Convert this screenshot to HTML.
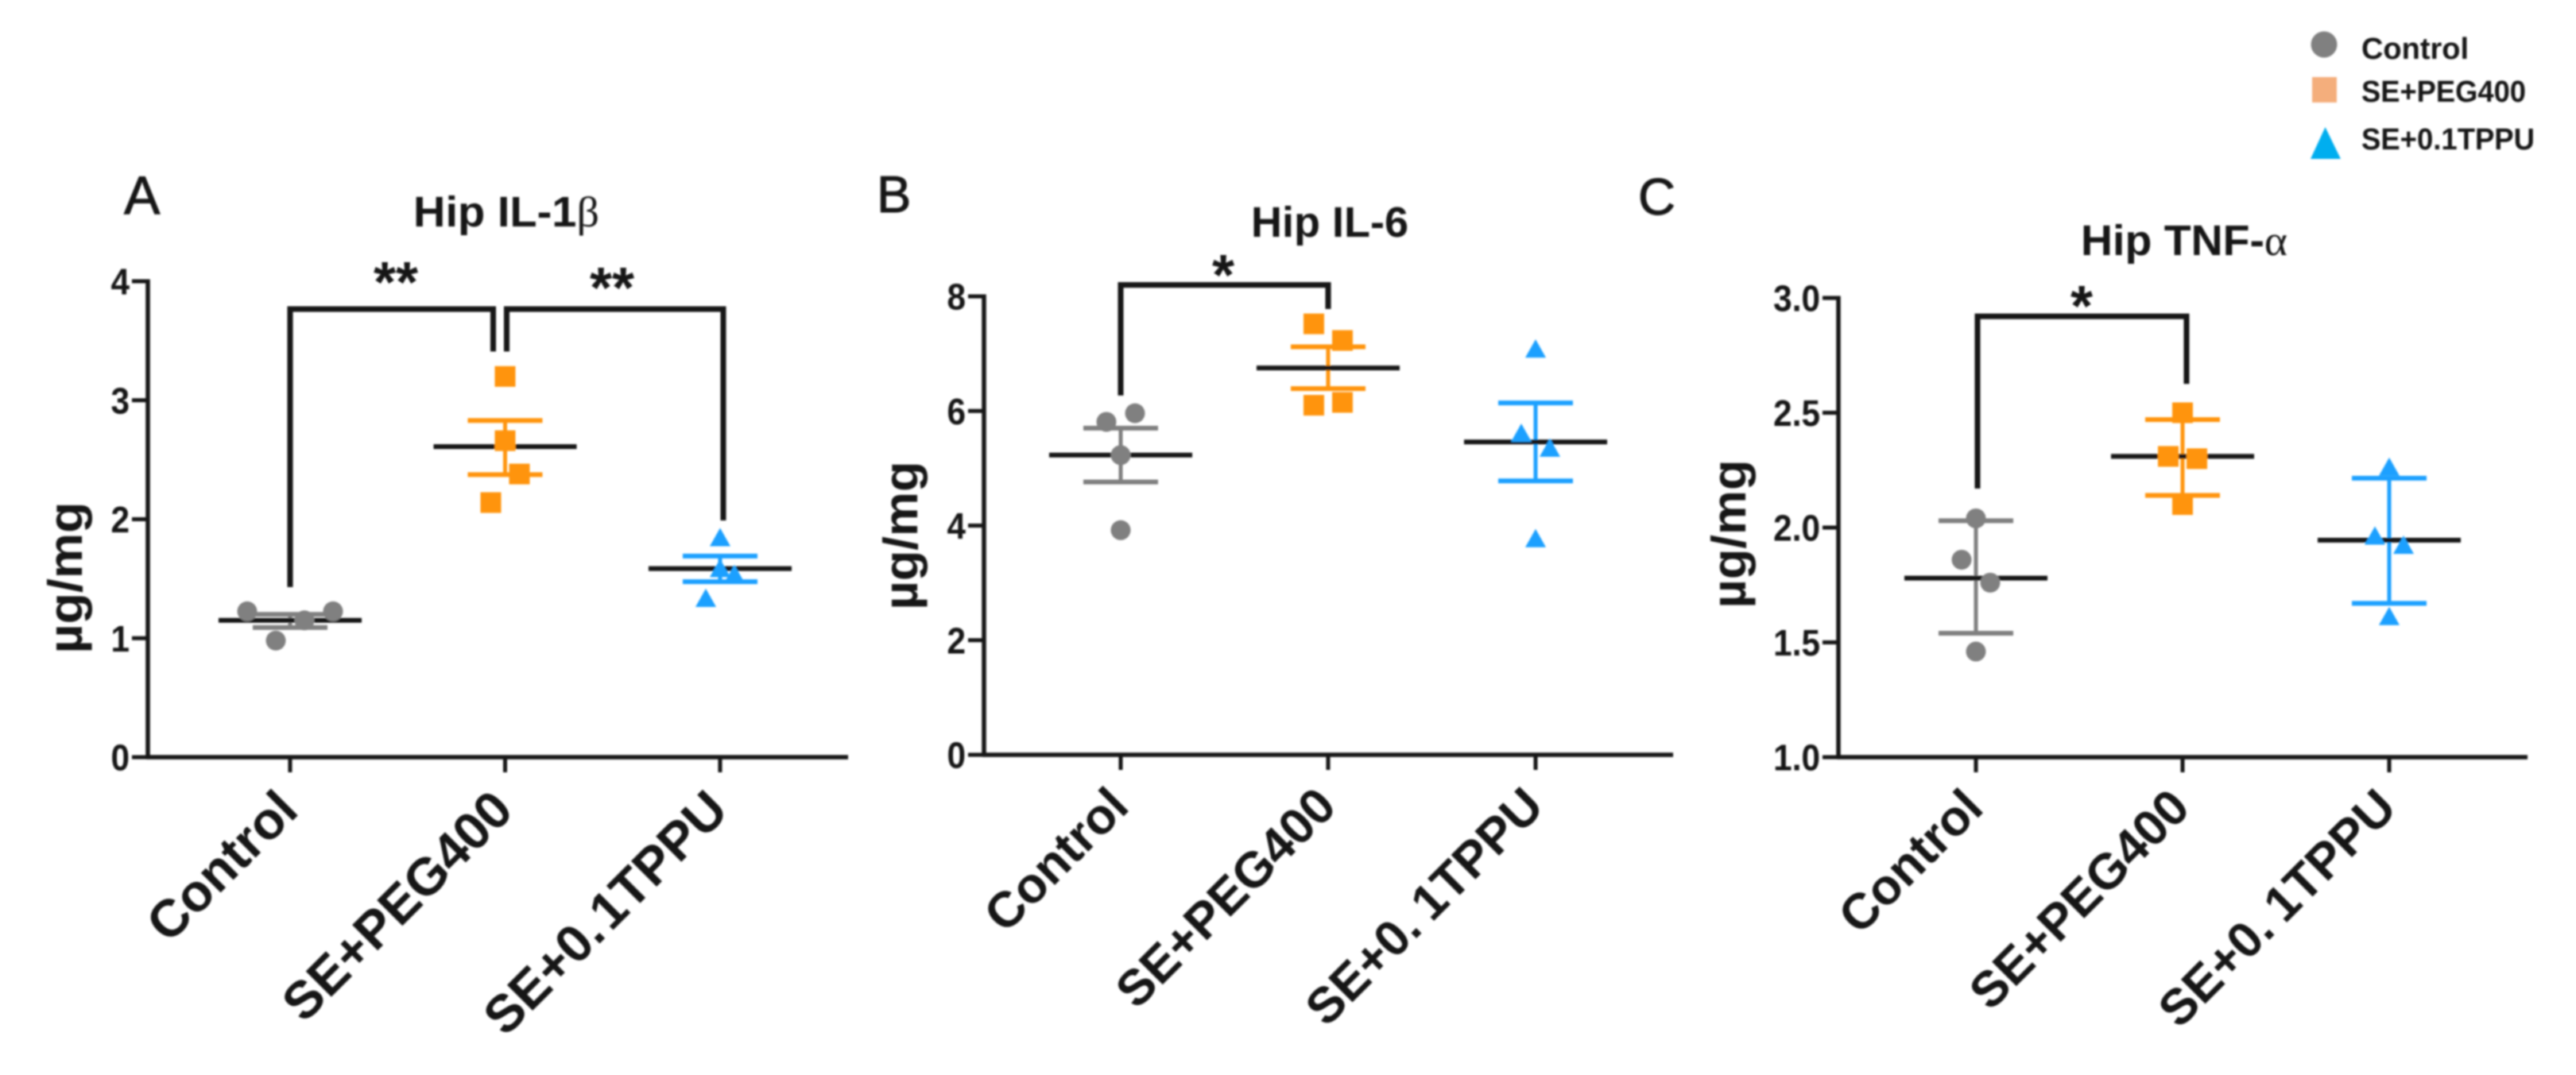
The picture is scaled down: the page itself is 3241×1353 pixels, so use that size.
<!DOCTYPE html>
<html lang="en">
<head>
<meta charset="utf-8">
<title>Hippocampal cytokine levels</title>
<style>
html,body{margin:0;padding:0;background:#fff;width:3241px;height:1353px;overflow:hidden}
svg{display:block}
text{font-family:"Liberation Sans",sans-serif;fill:#141414}
.b{font-weight:700}
.g{font-family:"Liberation Serif",serif;font-weight:400}
</style>
</head>
<body>
<svg id="figure" xmlns="http://www.w3.org/2000/svg" width="3241" height="1353" viewBox="0 0 3241 1353">
<defs><filter id="soft" x="0" y="0" width="100%" height="100%" filterUnits="userSpaceOnUse" primitiveUnits="userSpaceOnUse"><feGaussianBlur stdDeviation="1.1"/></filter></defs>
<rect x="0" y="0" width="3241" height="1353" fill="#fff"/>
<g id="root" filter="url(#soft)">
  <text x="156" y="269" font-size="68" stroke="#141414" stroke-width="1">A</text>
  <text x="1103" y="267" font-size="65" stroke="#141414" stroke-width="1">B</text>
  <text x="2061" y="270" font-size="65" stroke="#141414" stroke-width="1">C</text>

  <text class="b" x="637" y="285" font-size="54" text-anchor="middle" textLength="234" lengthAdjust="spacingAndGlyphs">Hip IL-1<tspan class="g">β</tspan></text>
  <text class="b" x="1673" y="298" font-size="54" text-anchor="middle" textLength="198" lengthAdjust="spacingAndGlyphs">Hip IL-6</text>
  <text class="b" x="2748" y="321" font-size="54" text-anchor="middle" textLength="260" lengthAdjust="spacingAndGlyphs">Hip TNF-<tspan class="g">α</tspan></text>

  <text class="b" transform="translate(103,727) rotate(-90)" font-size="60" text-anchor="middle" textLength="191" lengthAdjust="spacingAndGlyphs">µg/mg</text>
  <text class="b" transform="translate(1154,674) rotate(-90)" font-size="60" text-anchor="middle" textLength="187" lengthAdjust="spacingAndGlyphs">µg/mg</text>
  <text class="b" transform="translate(2196,672) rotate(-90)" font-size="60" text-anchor="middle" textLength="187" lengthAdjust="spacingAndGlyphs">µg/mg</text>

  <g>
    <circle cx="2924" cy="56" r="16.5" fill="#808080"/>
    <rect x="2909" y="97" width="31" height="32" fill="#F4AE7C"/>
    <polygon points="2925.5,160 2945,200 2907,200" fill="#00AEEF"/>
    <text class="b" x="2971" y="74" font-size="38" textLength="135" lengthAdjust="spacingAndGlyphs">Control</text>
    <text class="b" x="2971" y="128" font-size="38" textLength="207" lengthAdjust="spacingAndGlyphs">SE+PEG400</text>
    <text class="b" x="2971" y="188" font-size="38" textLength="218" lengthAdjust="spacingAndGlyphs">SE+0.1TPPU</text>
  </g>
</g>
</svg>
<script>
/* ---------- data ---------- */
const categories = ["Control", "SE+PEG400", "SE+0.1TPPU"];

const il1bTicks = ["0", "1", "2", "3", "4"];
const il1bTickValues = [0, 1, 2, 3, 4];
const il1bControl = [1.226, 0.98, 1.15, 1.226];
const il1bPeg = [3.2, 2.66, 2.38, 2.14];
const il1bTppu = [1.84, 1.58, 1.53, 1.33];
const il1bMeans = [1.15, 2.61, 1.585];
const il1bErrUpper = [1.2, 2.83, 1.69];
const il1bErrLower = [1.09, 2.375, 1.475];
const il1bSlots = [[-3, -1, 1, 3], [0, 0, 1, -1], [0, 0, 1, -1]];

const il6Ticks = ["0", "2", "4", "6", "8"];
const il6TickValues = [0, 2, 4, 6, 8];
const il6Control = [5.96, 5.81, 5.23, 3.92];
const il6Peg = [7.52, 7.23, 6.15, 6.10];
const il6Tppu = [7.07, 5.6, 5.34, 3.76];
const il6Means = [5.23, 6.75, 5.46];
const il6ErrUpper = [5.70, 7.12, 6.14];
const il6ErrLower = [4.76, 6.39, 4.78];
const il6Slots = [[1, -1, 0, 0], [-1, 1, 1, -1], [0, -1, 1, 0]];

const tnfTicks = ["1.0", "1.5", "2.0", "2.5", "3.0"];
const tnfTickValues = [1, 1.5, 2, 2.5, 3];
const tnfControl = [2.04, 1.86, 1.76, 1.46];
const tnfPeg = [2.5, 2.31, 2.30, 2.10];
const tnfTppu = [2.26, 1.96, 1.92, 1.61];
const tnfMeans = [1.78, 2.31, 1.945];
const tnfErrUpper = [2.03, 2.47, 2.215];
const tnfErrLower = [1.54, 2.14, 1.67];
const tnfSlots = [[0, -1, 1, 0], [0, -1, 1, 0], [0, -1, 1, 0]];

/* significance brackets: from category, to category, top value, left-foot value, right-foot value */
const il1bBrackets = [[0, 1, 3.766, 1.43, 3.41, "**"], [1, 2, 3.766, 3.41, 1.99, "**"]];
const il6Brackets = [[0, 1, 8.2, 6.27, 7.78, "*"]];
const tnfBrackets = [[0, 1, 2.92, 2.17, 2.626, "*"]];

/* ---------- layout (pixels) ---------- */
const seriesColors = ["#808080", "#FF9408", "#1AA0FF"];
const panels = [
  {key: "il1b", axisX: 186, axisEnd: 1067, yZero: 953, yTop: 354, lo: 0, hi: 4, cat0: 365, step: 270.5,
   ticks: il1bTicks, tickValues: il1bTickValues, series: [il1bControl, il1bPeg, il1bTppu],
   means: il1bMeans, up: il1bErrUpper, low: il1bErrLower, slots: il1bSlots, brackets: il1bBrackets,
   bracketDx: [[0, -15], [2, 4]], starAt: [[498, 380], [770, 387]],
   labelSize: 66, labelDx: 13, labelDy: 70, labelGap: 6},
  {key: "il6", axisX: 1238, axisEnd: 2105, yZero: 950, yTop: 373, lo: 0, hi: 8, cat0: 1410, step: 261,
   ticks: il6Ticks, tickValues: il6TickValues, series: [il6Control, il6Peg, il6Tppu],
   means: il6Means, up: il6ErrUpper, low: il6ErrLower, slots: il6Slots, brackets: il6Brackets,
   bracketDx: [[0, 0]], starAt: [[1539, 371]],
   labelSize: 63, labelDx: 13, labelDy: 68, labelGap: 14},
  {key: "tnf", axisX: 2313, axisEnd: 3180, yZero: 953, yTop: 375, lo: 1, hi: 3, cat0: 2486, step: 260,
   ticks: tnfTicks, tickValues: tnfTickValues, series: [tnfControl, tnfPeg, tnfTppu],
   means: tnfMeans, up: tnfErrUpper, low: tnfErrLower, slots: tnfSlots, brackets: tnfBrackets,
   bracketDx: [[2, 5]], starAt: [[2619, 410]],
   labelSize: 63, labelDx: 12, labelDy: 67, labelGap: 14}
];

const NS = "http://www.w3.org/2000/svg";
const root = document.getElementById("root");
function mk(tag, attrs, parent) {
  const el = document.createElementNS(NS, tag);
  for (const k in attrs) el.setAttribute(k, attrs[k]);
  parent.appendChild(el);
  return el;
}
function seg(parent, x1, y1, x2, y2, color, w, name) {
  const el = mk("line", {x1: x1, y1: y1, x2: x2, y2: y2, stroke: color, "stroke-width": w}, parent);
  
  
  return el;
}

panels.forEach(function (p) {
  const yScale = function (v) { return p.yZero - (v - p.lo) / (p.hi - p.lo) * (p.yZero - p.yTop); };
  const xScale = function (i) { return p.cat0 + i * p.step; };
  const ink = "#141414";

  const g = mk("g", {}, root);
  
  

  /* axes */
  seg(g, p.axisX, yScale(p.hi) - 2.5, p.axisX, p.yZero + 2.5, ink, 5.5, p.key + '-y-axis');
  seg(g, p.axisX - 2, p.yZero, p.axisEnd, p.yZero, ink, 5.5, p.key + '-x-axis');

  p.tickValues.forEach(function (v, i) {
    seg(g, p.axisX - 20, yScale(v), p.axisX, yScale(v), ink, 5, p.key + '-y-tick');
    const t = mk("text", {transform: "translate(" + (p.axisX - 23) + "," + (yScale(v) + 16.5) + ") scale(.92,1)", "font-size": 46, "text-anchor": "end", "class": "b"}, g);
    
    
    t.textContent = p.ticks[i];
  });

  categories.forEach(function (c, i) {
    const x = xScale(i);
    seg(g, x, p.yZero, x, p.yZero + 19, ink, 5, p.key + '-x-tick');
    const t = mk("text", {transform: "translate(" + (x + p.labelDx) + "," + (p.yZero + p.labelDy) + ") rotate(-45)", "font-size": p.labelSize, "text-anchor": "end", "class": "b"}, g);
    
    
    const dot = c.indexOf(".");
    if (dot < 0) {
      t.textContent = c;
    } else {
      t.appendChild(document.createTextNode(c.slice(0, dot + 1)));
      const rest = mk("tspan", {dx: p.labelGap}, t);
      rest.textContent = c.slice(dot + 1);
    }
  });

  /* series */
  p.series.forEach(function (vals, i) {
    const x = xScale(i), col = seriesColors[i];
    seg(g, x, yScale(p.up[i]), x, yScale(p.low[i]), col, 5, p.key + '-error-stem');
    seg(g, x - 47, yScale(p.up[i]), x + 47, yScale(p.up[i]), col, 6, p.key + '-error-cap-upper');
    seg(g, x - 47, yScale(p.low[i]), x + 47, yScale(p.low[i]), col, 6, p.key + '-error-cap-lower');
    seg(g, x - 90, yScale(p.means[i]), x + 90, yScale(p.means[i]), "#141414", 6, p.key + '-mean-line');

    vals.forEach(function (v, j) {
      const cx = x + p.slots[i][j] * 18, cy = yScale(v);
      let m;
      if (i === 0) {
        m = mk("circle", {cx: cx, cy: cy, r: 12.5, fill: col}, g);
      } else if (i === 1) {
        m = mk("rect", {x: cx - 13, y: cy - 13, width: 26, height: 26, fill: col}, g);
      } else {
        m = mk("polygon", {points: cx + "," + (cy - 13) + " " + (cx + 13) + "," + (cy + 10) + " " + (cx - 13) + "," + (cy + 10), fill: col}, g);
      }
      
      
    });
  });

  /* significance brackets */
  p.brackets.forEach(function (b, i) {
    const x1 = xScale(b[0]) + p.bracketDx[i][0], x2 = xScale(b[1]) + p.bracketDx[i][1];
    const path = mk("path", {
      d: "M" + x1 + " " + yScale(b[3]) + "V" + yScale(b[2]) + "H" + x2 + "V" + yScale(b[4]),
      fill: "none", stroke: "#141414", "stroke-width": 7
    }, g);
    
    
    const s = mk("text", {x: p.starAt[i][0], y: p.starAt[i][1], "font-size": 72, "font-weight": 700, "text-anchor": "middle"}, g);
    
    
    s.textContent = b[5];
  });
});
</script>
</body>
</html>
